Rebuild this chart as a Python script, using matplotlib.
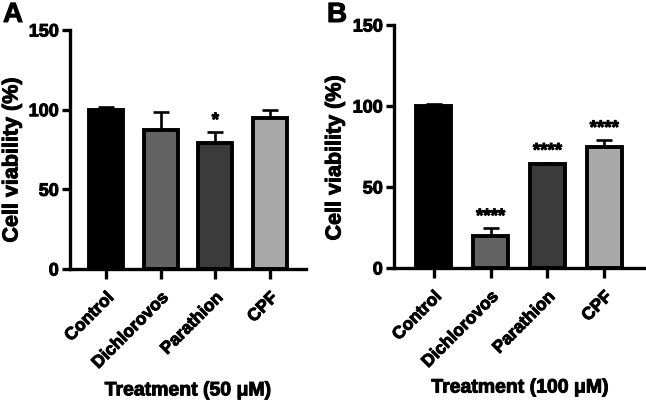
import matplotlib
matplotlib.use("Agg")
import matplotlib.pyplot as plt
import matplotlib.patheffects as pe
import numpy as np

plt.rcParams['font.family'] = ['Liberation Sans', 'DejaVu Sans']
plt.rcParams['font.weight'] = 'bold'

categories = ["Control", "Dichlorovos", "Parathion", "CPF"]
colors = ["#000000", "#636363", "#3b3b3b", "#a9a9a9"]

values_a = [100.0, 87.5, 78.8, 94.8]
errors_a = [1.8, 11.0, 7.0, 5.0]
stars_a = ["", "", "*", ""]

values_b = [99.8, 19.5, 64.0, 75.0]
errors_b = [1.6, 5.0, 1.0, 4.0]
stars_b = ["", "****", "****", "****"]

yticks = [0, 50, 100, 150]

heavy = [pe.withStroke(linewidth=0.7, foreground='black')]

fig = plt.figure(figsize=(6.46, 4.05), dpi=100)
ax_a = fig.add_axes([70/646, 136/405, 236/646, 239/405])
ax_b = fig.add_axes([394/646, 137/405, 250/646, 243/405])

def draw(ax, vals, errs, stars, xlim, xlabel, ylab_coords, xlab_coords):
    x = np.arange(len(categories))
    ax.bar(x, vals, width=0.62, color=colors, edgecolor='black', linewidth=2.8, zorder=2)
    ax.errorbar(x, vals, yerr=[np.zeros(len(vals)), errs], fmt='none', ecolor='black',
                elinewidth=1.9, capsize=6, capthick=1.9, zorder=1)
    for xi, v, e, s in zip(x, vals, errs, stars):
        if s:
            t = ax.annotate(s, (xi, v + e), xytext=(0, 2), textcoords='offset points',
                            ha='center', va='bottom', fontsize=13.5, fontweight='bold')
            t.set_path_effects(heavy)
    ax.set_xlim(*xlim)
    ax.set_ylim(0, 150)
    ax.set_yticks(yticks)
    ax.set_xticks(x)
    ax.set_xticklabels(categories, rotation=45, ha='right', rotation_mode='anchor',
                       fontsize=12.5, fontweight='bold')
    for lab in ax.get_xticklabels():
        lab.set_path_effects(heavy)
    for lab in ax.get_yticklabels():
        lab.set_fontsize(13)
        lab.set_fontweight('bold')
        lab.set_path_effects(heavy)
    ax.spines['top'].set_visible(False)
    ax.spines['right'].set_visible(False)
    ax.spines['left'].set_linewidth(2.4)
    ax.spines['bottom'].set_linewidth(2.4)
    ax.tick_params(axis='y', length=6, width=2.4, pad=2)
    ax.tick_params(axis='x', length=7, width=2.4, pad=8)
    yl = ax.set_ylabel("Cell viability (%)", fontsize=15.5, fontweight='bold', va='center')
    yl.set_path_effects(heavy)
    ax.yaxis.set_label_coords(*ylab_coords)
    xl = ax.set_xlabel(xlabel, fontsize=14, fontweight='bold', va='center')
    xl.set_path_effects(heavy)
    ax.xaxis.set_label_coords(*xlab_coords)

draw(ax_a, values_a, errors_a, stars_a, (-0.66, 3.66), "Treatment (50 \u03bcM)",
     (-0.246, 0.456), (0.5, -0.51))
draw(ax_b, values_b, errors_b, stars_b, (-0.7, 3.7), "Treatment (100 \u03bcM)",
     (-0.236, 0.453), (0.504, -0.494))

ta = fig.text(3/646, 1 - 2/405, "A", fontsize=20, fontweight='bold', va='top', ha='left')
tb = fig.text(327/646, 1 - 2/405, "B", fontsize=20, fontweight='bold', va='top', ha='left')
ta.set_path_effects(heavy)
tb.set_path_effects(heavy)

fig.savefig("out.png", dpi=100)
